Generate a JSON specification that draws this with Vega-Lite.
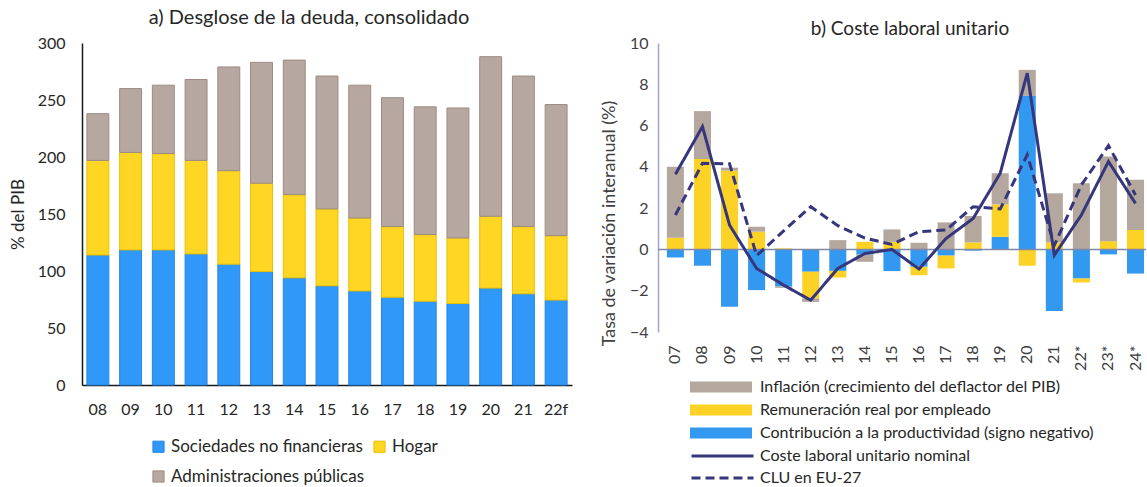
{
  "$schema": "https://vega.github.io/schema/vega-lite/v6.json",
  "padding": {"left": 9, "top": 8, "right": 0, "bottom": 0},
  "bounds": "flush",
  "spacing": 86,
  "config": {"font": "Lato", "view": {"stroke": null}, "legend": {"padding": 0, "labelLimit": 0}},
  "datasets": {
    "debt": [
      {"year": "08", "sector": "Sociedades no financieras", "value": 114, "ord": 1},
      {"year": "08", "sector": "Hogar", "value": 83, "ord": 2},
      {"year": "08", "sector": "Administraciones públicas", "value": 41, "ord": 3},
      {"year": "09", "sector": "Sociedades no financieras", "value": 118.5, "ord": 1},
      {"year": "09", "sector": "Hogar", "value": 85.5, "ord": 2},
      {"year": "09", "sector": "Administraciones públicas", "value": 56, "ord": 3},
      {"year": "10", "sector": "Sociedades no financieras", "value": 118.5, "ord": 1},
      {"year": "10", "sector": "Hogar", "value": 84.5, "ord": 2},
      {"year": "10", "sector": "Administraciones públicas", "value": 60, "ord": 3},
      {"year": "11", "sector": "Sociedades no financieras", "value": 115, "ord": 1},
      {"year": "11", "sector": "Hogar", "value": 82, "ord": 2},
      {"year": "11", "sector": "Administraciones públicas", "value": 71, "ord": 3},
      {"year": "12", "sector": "Sociedades no financieras", "value": 106, "ord": 1},
      {"year": "12", "sector": "Hogar", "value": 82, "ord": 2},
      {"year": "12", "sector": "Administraciones públicas", "value": 91, "ord": 3},
      {"year": "13", "sector": "Sociedades no financieras", "value": 99.5, "ord": 1},
      {"year": "13", "sector": "Hogar", "value": 77.5, "ord": 2},
      {"year": "13", "sector": "Administraciones públicas", "value": 106, "ord": 3},
      {"year": "14", "sector": "Sociedades no financieras", "value": 94, "ord": 1},
      {"year": "14", "sector": "Hogar", "value": 73, "ord": 2},
      {"year": "14", "sector": "Administraciones públicas", "value": 118, "ord": 3},
      {"year": "15", "sector": "Sociedades no financieras", "value": 87, "ord": 1},
      {"year": "15", "sector": "Hogar", "value": 67.5, "ord": 2},
      {"year": "15", "sector": "Administraciones públicas", "value": 116.5, "ord": 3},
      {"year": "16", "sector": "Sociedades no financieras", "value": 82.5, "ord": 1},
      {"year": "16", "sector": "Hogar", "value": 64, "ord": 2},
      {"year": "16", "sector": "Administraciones públicas", "value": 116.5, "ord": 3},
      {"year": "17", "sector": "Sociedades no financieras", "value": 77, "ord": 1},
      {"year": "17", "sector": "Hogar", "value": 62, "ord": 2},
      {"year": "17", "sector": "Administraciones públicas", "value": 113, "ord": 3},
      {"year": "18", "sector": "Sociedades no financieras", "value": 73.5, "ord": 1},
      {"year": "18", "sector": "Hogar", "value": 58.5, "ord": 2},
      {"year": "18", "sector": "Administraciones públicas", "value": 112, "ord": 3},
      {"year": "19", "sector": "Sociedades no financieras", "value": 71.5, "ord": 1},
      {"year": "19", "sector": "Hogar", "value": 57.5, "ord": 2},
      {"year": "19", "sector": "Administraciones públicas", "value": 114, "ord": 3},
      {"year": "20", "sector": "Sociedades no financieras", "value": 85, "ord": 1},
      {"year": "20", "sector": "Hogar", "value": 63, "ord": 2},
      {"year": "20", "sector": "Administraciones públicas", "value": 140, "ord": 3},
      {"year": "21", "sector": "Sociedades no financieras", "value": 80, "ord": 1},
      {"year": "21", "sector": "Hogar", "value": 59, "ord": 2},
      {"year": "21", "sector": "Administraciones públicas", "value": 132, "ord": 3},
      {"year": "22f", "sector": "Sociedades no financieras", "value": 74.5, "ord": 1},
      {"year": "22f", "sector": "Hogar", "value": 56.5, "ord": 2},
      {"year": "22f", "sector": "Administraciones públicas", "value": 115, "ord": 3}
    ],
    "clu": [
      {"year": "07", "comp": "Contribución a la productividad (signo negativo)", "value": -0.39, "ord": 1},
      {"year": "07", "comp": "Remuneración real por empleado", "value": 0.57, "ord": 2},
      {"year": "07", "comp": "Inflación (crecimiento del deflactor del PIB)", "value": 3.43, "ord": 3},
      {"year": "08", "comp": "Contribución a la productividad (signo negativo)", "value": -0.79, "ord": 1},
      {"year": "08", "comp": "Remuneración real por empleado", "value": 4.38, "ord": 2},
      {"year": "08", "comp": "Inflación (crecimiento del deflactor del PIB)", "value": 2.32, "ord": 3},
      {"year": "09", "comp": "Contribución a la productividad (signo negativo)", "value": -2.78, "ord": 1},
      {"year": "09", "comp": "Remuneración real por empleado", "value": 3.82, "ord": 2},
      {"year": "09", "comp": "Inflación (crecimiento del deflactor del PIB)", "value": 0.14, "ord": 3},
      {"year": "10", "comp": "Contribución a la productividad (signo negativo)", "value": -1.97, "ord": 1},
      {"year": "10", "comp": "Remuneración real por empleado", "value": 0.86, "ord": 2},
      {"year": "10", "comp": "Inflación (crecimiento del deflactor del PIB)", "value": 0.24, "ord": 3},
      {"year": "11", "comp": "Contribución a la productividad (signo negativo)", "value": -1.8, "ord": 1},
      {"year": "11", "comp": "Remuneración real por empleado", "value": 0.05, "ord": 2},
      {"year": "11", "comp": "Inflación (crecimiento del deflactor del PIB)", "value": -0.06, "ord": 3},
      {"year": "12", "comp": "Contribución a la productividad (signo negativo)", "value": -1.08, "ord": 1},
      {"year": "12", "comp": "Remuneración real por empleado", "value": -1.3, "ord": 2},
      {"year": "12", "comp": "Inflación (crecimiento del deflactor del PIB)", "value": -0.16, "ord": 3},
      {"year": "13", "comp": "Contribución a la productividad (signo negativo)", "value": -1.04, "ord": 1},
      {"year": "13", "comp": "Remuneración real por empleado", "value": -0.32, "ord": 2},
      {"year": "13", "comp": "Inflación (crecimiento del deflactor del PIB)", "value": 0.45, "ord": 3},
      {"year": "14", "comp": "Contribución a la productividad (signo negativo)", "value": -0.25, "ord": 1},
      {"year": "14", "comp": "Remuneración real por empleado", "value": 0.37, "ord": 2},
      {"year": "14", "comp": "Inflación (crecimiento del deflactor del PIB)", "value": -0.35, "ord": 3},
      {"year": "15", "comp": "Contribución a la productividad (signo negativo)", "value": -1.05, "ord": 1},
      {"year": "15", "comp": "Remuneración real por empleado", "value": 0.37, "ord": 2},
      {"year": "15", "comp": "Inflación (crecimiento del deflactor del PIB)", "value": 0.6, "ord": 3},
      {"year": "16", "comp": "Contribución a la productividad (signo negativo)", "value": -0.84, "ord": 1},
      {"year": "16", "comp": "Remuneración real por empleado", "value": -0.41, "ord": 2},
      {"year": "16", "comp": "Inflación (crecimiento del deflactor del PIB)", "value": 0.32, "ord": 3},
      {"year": "17", "comp": "Contribución a la productividad (signo negativo)", "value": -0.3, "ord": 1},
      {"year": "17", "comp": "Remuneración real por empleado", "value": -0.62, "ord": 2},
      {"year": "17", "comp": "Inflación (crecimiento del deflactor del PIB)", "value": 1.31, "ord": 3},
      {"year": "18", "comp": "Contribución a la productividad (signo negativo)", "value": -0.06, "ord": 1},
      {"year": "18", "comp": "Remuneración real por empleado", "value": 0.34, "ord": 2},
      {"year": "18", "comp": "Inflación (crecimiento del deflactor del PIB)", "value": 1.28, "ord": 3},
      {"year": "19", "comp": "Contribución a la productividad (signo negativo)", "value": 0.61, "ord": 1},
      {"year": "19", "comp": "Remuneración real por empleado", "value": 1.57, "ord": 2},
      {"year": "19", "comp": "Inflación (crecimiento del deflactor del PIB)", "value": 1.51, "ord": 3},
      {"year": "20", "comp": "Contribución a la productividad (signo negativo)", "value": 7.44, "ord": 1},
      {"year": "20", "comp": "Remuneración real por empleado", "value": -0.79, "ord": 2},
      {"year": "20", "comp": "Inflación (crecimiento del deflactor del PIB)", "value": 1.26, "ord": 3},
      {"year": "21", "comp": "Contribución a la productividad (signo negativo)", "value": -2.98, "ord": 1},
      {"year": "21", "comp": "Remuneración real por empleado", "value": 0.34, "ord": 2},
      {"year": "21", "comp": "Inflación (crecimiento del deflactor del PIB)", "value": 2.38, "ord": 3},
      {"year": "22*", "comp": "Contribución a la productividad (signo negativo)", "value": -1.41, "ord": 1},
      {"year": "22*", "comp": "Remuneración real por empleado", "value": -0.19, "ord": 2},
      {"year": "22*", "comp": "Inflación (crecimiento del deflactor del PIB)", "value": 3.2, "ord": 3},
      {"year": "23*", "comp": "Contribución a la productividad (signo negativo)", "value": -0.24, "ord": 1},
      {"year": "23*", "comp": "Remuneración real por empleado", "value": 0.4, "ord": 2},
      {"year": "23*", "comp": "Inflación (crecimiento del deflactor del PIB)", "value": 4.1, "ord": 3},
      {"year": "24*", "comp": "Contribución a la productividad (signo negativo)", "value": -1.17, "ord": 1},
      {"year": "24*", "comp": "Remuneración real por empleado", "value": 0.94, "ord": 2},
      {"year": "24*", "comp": "Inflación (crecimiento del deflactor del PIB)", "value": 2.43, "ord": 3}
    ],
    "lines": [
      {"year": "07", "series": "Coste laboral unitario nominal", "value": 3.64},
      {"year": "08", "series": "Coste laboral unitario nominal", "value": 5.95},
      {"year": "09", "series": "Coste laboral unitario nominal", "value": 1.18},
      {"year": "10", "series": "Coste laboral unitario nominal", "value": -0.92},
      {"year": "11", "series": "Coste laboral unitario nominal", "value": -1.73},
      {"year": "12", "series": "Coste laboral unitario nominal", "value": -2.46},
      {"year": "13", "series": "Coste laboral unitario nominal", "value": -0.92},
      {"year": "14", "series": "Coste laboral unitario nominal", "value": -0.2},
      {"year": "15", "series": "Coste laboral unitario nominal", "value": 0.0},
      {"year": "16", "series": "Coste laboral unitario nominal", "value": -0.95},
      {"year": "17", "series": "Coste laboral unitario nominal", "value": 0.53},
      {"year": "18", "series": "Coste laboral unitario nominal", "value": 1.5},
      {"year": "19", "series": "Coste laboral unitario nominal", "value": 3.69},
      {"year": "20", "series": "Coste laboral unitario nominal", "value": 8.54},
      {"year": "21", "series": "Coste laboral unitario nominal", "value": -0.28},
      {"year": "22*", "series": "Coste laboral unitario nominal", "value": 1.67},
      {"year": "23*", "series": "Coste laboral unitario nominal", "value": 4.26},
      {"year": "24*", "series": "Coste laboral unitario nominal", "value": 2.23},
      {"year": "07", "series": "CLU en EU-27", "value": 1.67},
      {"year": "08", "series": "CLU en EU-27", "value": 4.17},
      {"year": "09", "series": "CLU en EU-27", "value": 4.15},
      {"year": "10", "series": "CLU en EU-27", "value": -0.3},
      {"year": "11", "series": "CLU en EU-27", "value": 0.9},
      {"year": "12", "series": "CLU en EU-27", "value": 2.07},
      {"year": "13", "series": "CLU en EU-27", "value": 1.15},
      {"year": "14", "series": "CLU en EU-27", "value": 0.55},
      {"year": "15", "series": "CLU en EU-27", "value": 0.24},
      {"year": "16", "series": "CLU en EU-27", "value": 0.86},
      {"year": "17", "series": "CLU en EU-27", "value": 0.94},
      {"year": "18", "series": "CLU en EU-27", "value": 2.07},
      {"year": "19", "series": "CLU en EU-27", "value": 1.96},
      {"year": "20", "series": "CLU en EU-27", "value": 4.58},
      {"year": "21", "series": "CLU en EU-27", "value": 0.2},
      {"year": "22*", "series": "CLU en EU-27", "value": 3.12},
      {"year": "23*", "series": "CLU en EU-27", "value": 5.03},
      {"year": "24*", "series": "CLU en EU-27", "value": 2.64}
    ]
  },
  "resolve": {"scale": {"color": "independent", "stroke": "independent", "strokeDash": "independent"},
              "legend": {"color": "independent", "strokeDash": "independent"}},
  "hconcat": [
    {
      "width": 490,
      "height": 342,
      "title": {"text": "a) Desglose de la deuda, consolidado", "fontSize": 20, "fontWeight": "normal", "color": "#262626", "offset": 7, "dx": -18},
      "data": {"name": "debt"},
      "mark": {"type": "bar", "strokeWidth": 1},
      "encoding": {
        "x": {"field": "year", "type": "nominal", "sort": null,
              "scale": {"paddingInner": 0.33, "paddingOuter": 0.15},
              "axis": {"title": null, "labelAngle": 0, "ticks": false, "domainColor": "#1a1a1a", "domainWidth": 1.5,
                       "labelFontSize": 16, "labelPadding": 16, "labelColor": "#262626"}},
        "y": {"field": "value", "type": "quantitative", "stack": "zero",
              "scale": {"domain": [0, 300], "nice": false},
              "axis": {"title": "% del PIB", "values": [0, 50, 100, 150, 200, 250, 300], "grid": false, "ticks": false,
                       "domainColor": "#1a1a1a", "domainWidth": 1.5, "labelFontSize": 16, "labelPadding": 17, "labelColor": "#262626",
                       "titleFontSize": 17, "titleFontWeight": "normal", "titleColor": "#262626", "titlePadding": 10}},
        "color": {"field": "sector", "type": "nominal",
                  "scale": {"domain": ["Sociedades no financieras", "Hogar", "Administraciones públicas"],
                            "range": ["#2F98F8", "#FED623", "#B6A8A0"]},
                  "legend": {"title": null, "orient": "none", "legendX": 68, "legendY": 395, "columns": 2, "direction": "horizontal",
                             "symbolType": "square", "symbolSize": 125, "symbolStrokeWidth": 1, "symbolStrokeColor": "#8a8a8a",
                             "labelFontSize": 17, "labelColor": "#262626", "labelOffset": 4, "rowPadding": 12, "columnPadding": 7}},
        "stroke": {"field": "sector", "type": "nominal",
                   "scale": {"domain": ["Sociedades no financieras", "Hogar", "Administraciones públicas"],
                             "range": ["#2286E6", "#E8C000", "#9C8A82"]},
                   "legend": null},
        "order": {"field": "ord", "type": "quantitative"}
      }
    },
    {
      "width": 488,
      "height": 289,
      "title": {"text": "b) Coste laboral unitario", "fontSize": 19, "fontWeight": "normal", "color": "#262626", "offset": -4, "dx": 8},
      "layer": [
        {
          "data": {"name": "clu"},
          "mark": {"type": "bar"},
          "encoding": {
            "x": {"field": "year", "type": "nominal",
                  "scale": {"domain": ["07","08","09","10","11","12","13","14","15","16","17","18","19","20","21","22*","23*","24*"],
                            "paddingInner": 0.37, "paddingOuter": 0.2, "align": 0.82},
                  "axis": {"title": null, "labelAngle": -90, "domain": false, "ticks": false, "labelFontSize": 16,
                           "labelPadding": 13, "labelColor": "#404040"}},
            "y": {"field": "value", "type": "quantitative", "stack": "zero",
                  "scale": {"domain": [-4, 10], "nice": false},
                  "axis": {"title": "Tasa de variación interanual (%)", "values": [-4, -2, 0, 2, 4, 6, 8, 10], "grid": false, "ticks": false,
                           "domainColor": "#A3A3CF", "domainWidth": 1.5, "labelFontSize": 16, "labelPadding": 10, "labelColor": "#404040",
                           "titleFontSize": 18, "titleFontWeight": "normal", "titleColor": "#404040", "titlePadding": 11, "titleY": 180}},
            "color": {"field": "comp", "type": "nominal",
                      "scale": {"domain": ["Inflación (crecimiento del deflactor del PIB)", "Remuneración real por empleado", "Contribución a la productividad (signo negativo)"],
                                "range": ["#B4A79D", "#FDD226", "#3399F0"]},
                      "legend": {"title": null, "orient": "none", "legendX": 32, "legendY": 336,
                                 "symbolType": "M-1,-0.18H1V0.18H-1Z", "symbolSize": 3844, "symbolStrokeWidth": 0, "clipHeight": 16,
                                 "labelFontSize": 16, "labelColor": "#262626", "labelOffset": 8, "rowPadding": 7}},
            "order": {"field": "ord", "type": "quantitative"}
          }
        },
        {
          "data": {"values": [{}]},
          "mark": {"type": "rule", "color": "#8088A8", "strokeWidth": 1.5},
          "encoding": {"y": {"datum": 0}}
        },
        {
          "data": {"name": "lines"},
          "mark": {"type": "line", "strokeWidth": 3, "color": "#36367C"},
          "encoding": {
            "x": {"field": "year", "type": "nominal",
                  "scale": {"domain": ["07","08","09","10","11","12","13","14","15","16","17","18","19","20","21","22*","23*","24*"]}},
            "y": {"field": "value", "type": "quantitative"},
            "strokeDash": {"field": "series", "type": "nominal",
                           "scale": {"domain": ["Coste laboral unitario nominal", "CLU en EU-27"], "range": [[1, 0], [9, 5]]},
                           "legend": {"title": null, "orient": "none", "legendX": 32, "legendY": 405,
                                      "symbolType": "M-1,0H1", "symbolSize": 3844, "symbolStrokeWidth": 3, "symbolStrokeColor": "#36367C", "symbolFillColor": "transparent", "clipHeight": 16,
                                      "labelFontSize": 16, "labelColor": "#262626", "labelOffset": 5, "rowPadding": 6}}
          }
        }
      ]
    }
  ]
}
